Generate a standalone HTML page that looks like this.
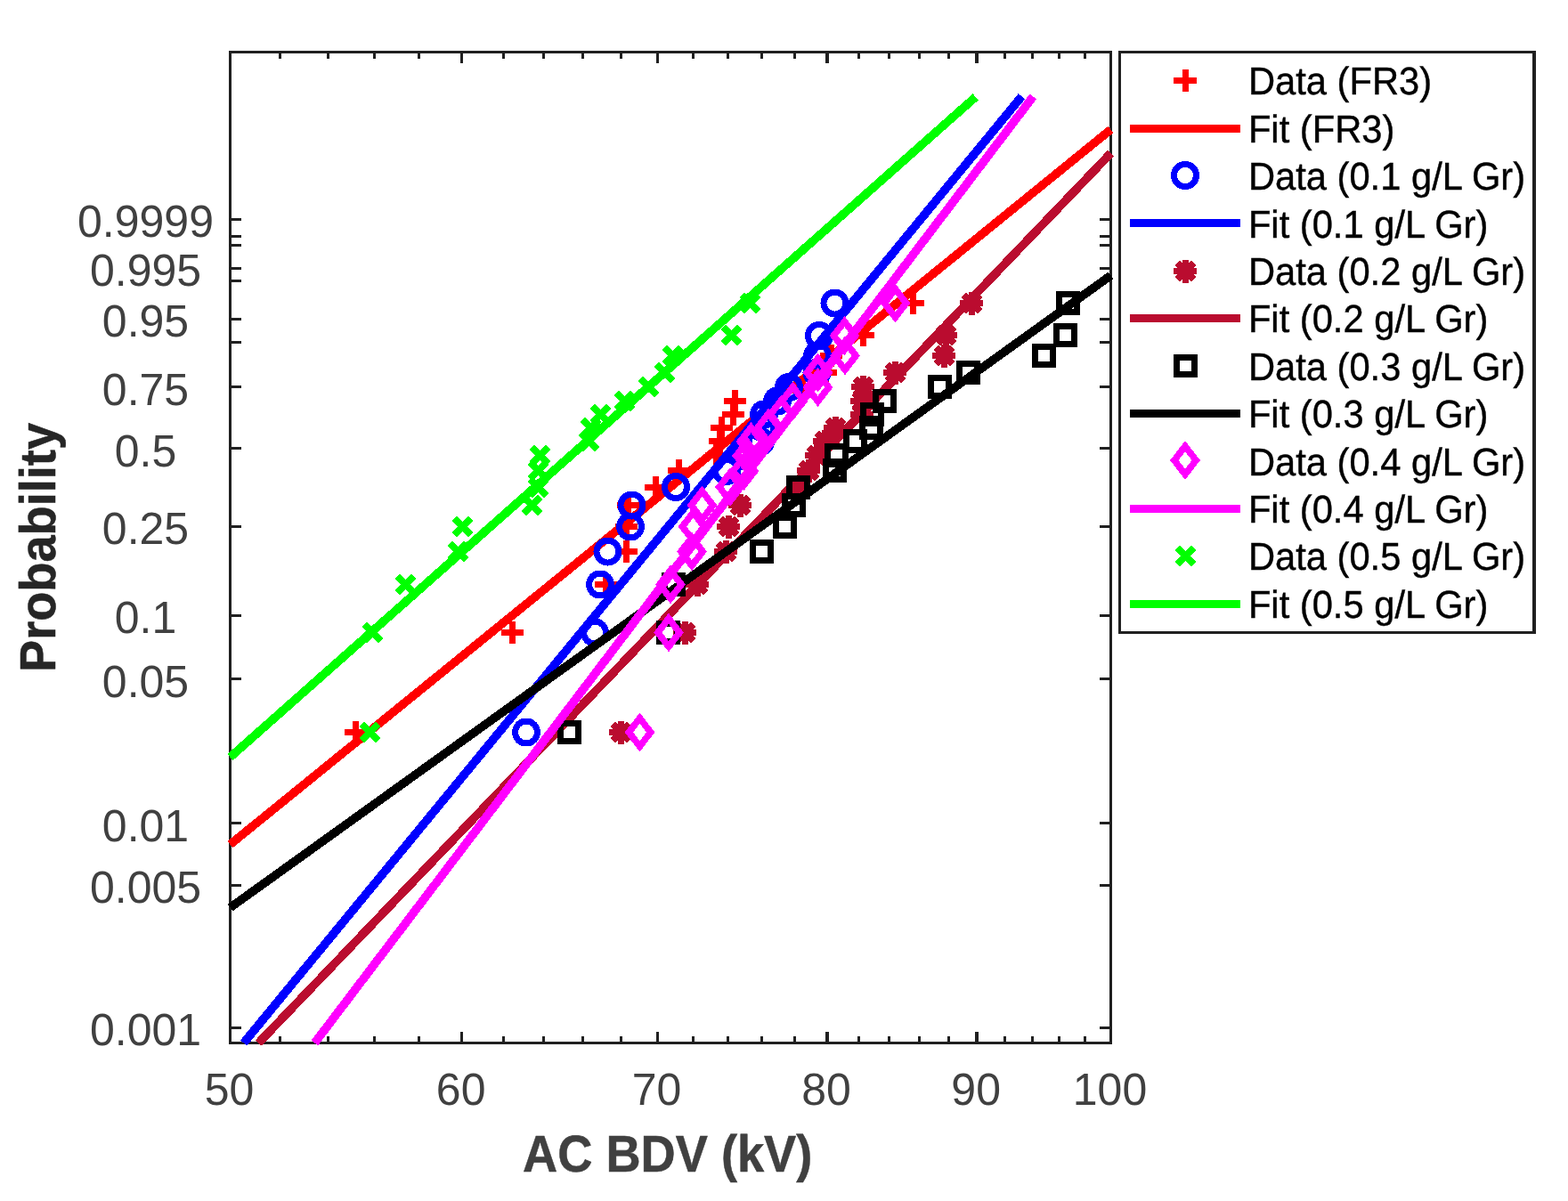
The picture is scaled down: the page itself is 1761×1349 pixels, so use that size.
<!DOCTYPE html>
<html lang="en"><head><meta charset="utf-8"><title>Weibull probability plot - AC BDV</title>
<style>html,body{margin:0;padding:0;background:#fff}body{width:1761px;height:1349px;overflow:hidden}svg{display:block}text{font-family:"Liberation Sans",Arial,Helvetica,sans-serif;text-rendering:geometricPrecision}.tk{font-size:50px;fill:#404040;text-anchor:middle}.al{font-size:54.2px;font-weight:bold;fill:#404040;text-anchor:middle;stroke:#404040;stroke-width:.5px}.lg{font-size:41.7px;fill:#000;stroke:#000;stroke-width:.4px}</style></head><body>
<svg width="1761" height="1349" viewBox="0 0 1761 1349" shape-rendering="crispEdges">
<rect width="1761" height="1349" fill="#fff"/>
<g fill="none" stroke="#202020" stroke-width="3"><rect x="258.5" y="58.5" width="989.0" height="1113.0"/><path d="M314.5 1171.5v-7.3M314.5 58.5v7.3M368.5 1171.5v-7.3M368.5 58.5v7.3M420.5 1171.5v-7.3M420.5 58.5v7.3M470.5 1171.5v-7.3M470.5 58.5v7.3M518.5 1171.5v-12.5M518.5 58.5v12.5M565.5 1171.5v-7.3M565.5 58.5v7.3M610.5 1171.5v-7.3M610.5 58.5v7.3M654.5 1171.5v-7.3M654.5 58.5v7.3M697.5 1171.5v-7.3M697.5 58.5v7.3M738.5 1171.5v-12.5M738.5 58.5v12.5M778.5 1171.5v-7.3M778.5 58.5v7.3M817.5 1171.5v-7.3M817.5 58.5v7.3M855.5 1171.5v-7.3M855.5 58.5v7.3M892.5 1171.5v-7.3M892.5 58.5v7.3M929.5 1171.5v-12.5M929.5 58.5v12.5M928.5 1171.5v-12.5M928.5 58.5v12.5M964.5 1171.5v-7.3M964.5 58.5v7.3M998.5 1171.5v-7.3M998.5 58.5v7.3M1032.5 1171.5v-7.3M1032.5 58.5v7.3M1065.5 1171.5v-7.3M1065.5 58.5v7.3M1097.5 1171.5v-12.5M1097.5 58.5v12.5M1096.5 1171.5v-12.5M1096.5 58.5v12.5M1128.5 1171.5v-7.3M1128.5 58.5v7.3M1159.5 1171.5v-7.3M1159.5 58.5v7.3M1189.5 1171.5v-7.3M1189.5 58.5v7.3M1218.5 1171.5v-7.3M1218.5 58.5v7.3M258.5 1154.5h12.5M1247.5 1154.5h-12.5M258.5 994.5h12.5M1247.5 994.5h-12.5M258.5 924.5h12.5M1247.5 924.5h-12.5M258.5 762.5h12.5M1247.5 762.5h-12.5M258.5 691.5h12.5M1247.5 691.5h-12.5M258.5 591.5h12.5M1247.5 591.5h-12.5M258.5 503.5h12.5M1247.5 503.5h-12.5M258.5 434.5h12.5M1247.5 434.5h-12.5M258.5 384.5h12.5M1247.5 384.5h-12.5M258.5 358.5h12.5M1247.5 358.5h-12.5M258.5 315.5h12.5M1247.5 315.5h-12.5M258.5 301.5h12.5M1247.5 301.5h-12.5M258.5 275.5h12.5M1247.5 275.5h-12.5M258.5 265.5h12.5M1247.5 265.5h-12.5M258.5 246.5h12.5M1247.5 246.5h-12.5"/></g>
<g class="tk" shape-rendering="auto"><text transform="translate(163.5 1173.5) scale(1 1.017)">0.001</text><text transform="translate(163.5 1013.5) scale(1 1.017)">0.005</text><text transform="translate(163.5 944.5) scale(1 1.017)">0.01</text><text transform="translate(163.5 782.5) scale(1 1.017)">0.05</text><text transform="translate(163.5 710.5) scale(1 1.017)">0.1</text><text transform="translate(163.5 610.5) scale(1 1.017)">0.25</text><text transform="translate(163.5 523.5) scale(1 1.017)">0.5</text><text transform="translate(163.5 454.5) scale(1 1.017)">0.75</text><text transform="translate(163.5 377.5) scale(1 1.017)">0.95</text><text transform="translate(163.5 320.5) scale(1 1.017)">0.995</text><text transform="translate(163.5 265.5) scale(1 1.017)">0.9999</text><text transform="translate(257.5 1240.5) scale(1 1.017)">50</text><text transform="translate(517.64 1240.5) scale(1 1.017)">60</text><text transform="translate(737.59 1240.5) scale(1 1.017)">70</text><text transform="translate(928.11 1240.5) scale(1 1.017)">80</text><text transform="translate(1096.17 1240.5) scale(1 1.017)">90</text><text transform="translate(1246.5 1240.5) scale(1 1.017)">100</text></g>
<text class="al" transform="translate(749.7 1316) scale(1 1.073)">AC BDV (kV)</text>
<text class="al" style="fill:#262626;stroke:#262626" transform="translate(62 615) rotate(-90) scale(1 1.046)">Probability</text>
<g><path fill="#ff0000" d="M386.5 819h25.5v7h-25.5zM396 810h7v25h-7z"/><path fill="#ff0000" d="M562.5 707h25.5v7h-25.5zM572 698h7v25h-7z"/><path fill="#ff0000" d="M667.5 653h25.5v7h-25.5zM677 644h7v25h-7z"/><path fill="#ff0000" d="M690.5 616h25.5v7h-25.5zM700 607h7v25h-7z"/><path fill="#ff0000" d="M690.5 588h25.5v7h-25.5zM700 579h7v25h-7z"/><path fill="#ff0000" d="M692.5 564h25.5v7h-25.5zM702 555h7v25h-7z"/><path fill="#ff0000" d="M723.5 544h25.5v7h-25.5zM733 535h7v25h-7z"/><path fill="#ff0000" d="M749.5 525h25.5v7h-25.5zM759 516h7v25h-7z"/><path fill="#ff0000" d="M791.5 508h25.5v7h-25.5zM801 499h7v25h-7z"/><path fill="#ff0000" d="M795.5 492h25.5v7h-25.5zM805 483h7v25h-7z"/><path fill="#ff0000" d="M797.5 477h25.5v7h-25.5zM807 468h7v25h-7z"/><path fill="#ff0000" d="M810.5 462h25.5v7h-25.5zM820 453h7v25h-7z"/><path fill="#ff0000" d="M812.5 447h25.5v7h-25.5zM822 438h7v25h-7z"/><path fill="#ff0000" d="M888.5 431h25.5v7h-25.5zM898 422h7v25h-7z"/><path fill="#ff0000" d="M914.5 415h25.5v7h-25.5zM924 406h7v25h-7z"/><path fill="#ff0000" d="M920.5 396h25.5v7h-25.5zM930 387h7v25h-7z"/><path fill="#ff0000" d="M956.5 373h25.5v7h-25.5zM966 364h7v25h-7z"/><path fill="#ff0000" d="M1012.5 337h25.5v7h-25.5zM1022 328h7v25h-7z"/><path fill="none" stroke="#ff0000" stroke-width="9.6" d="M258.5 948.5L1247.5 145.5"/></g>
<g><circle cx="591" cy="822.5" r="12.5" fill="none" stroke="#0000ff" stroke-width="7"/><circle cx="668" cy="710.5" r="12.5" fill="none" stroke="#0000ff" stroke-width="7"/><circle cx="674" cy="656.5" r="12.5" fill="none" stroke="#0000ff" stroke-width="7"/><circle cx="682.5" cy="619.5" r="12.5" fill="none" stroke="#0000ff" stroke-width="7"/><circle cx="708" cy="591.5" r="12.5" fill="none" stroke="#0000ff" stroke-width="7"/><circle cx="709.5" cy="567.5" r="12.5" fill="none" stroke="#0000ff" stroke-width="7"/><circle cx="759" cy="547" r="12.5" fill="none" stroke="#0000ff" stroke-width="7"/><circle cx="816" cy="529" r="12.5" fill="none" stroke="#0000ff" stroke-width="7"/><circle cx="835" cy="512" r="12.5" fill="none" stroke="#0000ff" stroke-width="7"/><circle cx="854" cy="496" r="12.5" fill="none" stroke="#0000ff" stroke-width="7"/><circle cx="856.5" cy="480.5" r="12.5" fill="none" stroke="#0000ff" stroke-width="7"/><circle cx="858" cy="465.5" r="12.5" fill="none" stroke="#0000ff" stroke-width="7"/><circle cx="873" cy="450.5" r="12.5" fill="none" stroke="#0000ff" stroke-width="7"/><circle cx="886" cy="435" r="12.5" fill="none" stroke="#0000ff" stroke-width="7"/><circle cx="917.5" cy="418.5" r="12.5" fill="none" stroke="#0000ff" stroke-width="7"/><circle cx="918" cy="399.5" r="12.5" fill="none" stroke="#0000ff" stroke-width="7"/><circle cx="920" cy="377" r="12.5" fill="none" stroke="#0000ff" stroke-width="7"/><circle cx="937.5" cy="340.5" r="12.5" fill="none" stroke="#0000ff" stroke-width="7"/><path fill="none" stroke="#0000ff" stroke-width="9.6" d="M273.7 1171.5L1147.5 108.2"/></g>
<g><path fill="#ba0c2f" d="M684 819h26v7h-26zM694 809.5h7v26h-7z"/><path fill="none" stroke="#ba0c2f" stroke-width="7.3" d="M688.4 813.4L706.6 831.6M688.4 831.6L706.6 813.4"/><path fill="#ba0c2f" d="M756 707h26v7h-26zM766 697.5h7v26h-7z"/><path fill="none" stroke="#ba0c2f" stroke-width="7.3" d="M760.4 701.4L778.6 719.6M760.4 719.6L778.6 701.4"/><path fill="#ba0c2f" d="M770 653h26v7h-26zM780 643.5h7v26h-7z"/><path fill="none" stroke="#ba0c2f" stroke-width="7.3" d="M774.4 647.4L792.6 665.6M774.4 665.6L792.6 647.4"/><path fill="#ba0c2f" d="M802 616h26v7h-26zM812 606.5h7v26h-7z"/><path fill="none" stroke="#ba0c2f" stroke-width="7.3" d="M806.4 610.4L824.6 628.6M806.4 628.6L824.6 610.4"/><path fill="#ba0c2f" d="M805 588h26v7h-26zM815 578.5h7v26h-7z"/><path fill="none" stroke="#ba0c2f" stroke-width="7.3" d="M809.4 582.4L827.6 600.6M809.4 600.6L827.6 582.4"/><path fill="#ba0c2f" d="M818 564h26v7h-26zM828 554.5h7v26h-7z"/><path fill="none" stroke="#ba0c2f" stroke-width="7.3" d="M822.4 558.4L840.6 576.6M822.4 576.6L840.6 558.4"/><path fill="#ba0c2f" d="M884 544h26v7h-26zM894 534.5h7v26h-7z"/><path fill="none" stroke="#ba0c2f" stroke-width="7.3" d="M888.4 538.4L906.6 556.6M888.4 556.6L906.6 538.4"/><path fill="#ba0c2f" d="M895 525h26v7h-26zM905 515.5h7v26h-7z"/><path fill="none" stroke="#ba0c2f" stroke-width="7.3" d="M899.4 519.4L917.6 537.6M899.4 537.6L917.6 519.4"/><path fill="#ba0c2f" d="M904 508h26v7h-26zM914 498.5h7v26h-7z"/><path fill="none" stroke="#ba0c2f" stroke-width="7.3" d="M908.4 502.4L926.6 520.6M908.4 520.6L926.6 502.4"/><path fill="#ba0c2f" d="M913 492h26v7h-26zM923 482.5h7v26h-7z"/><path fill="none" stroke="#ba0c2f" stroke-width="7.3" d="M917.4 486.4L935.6 504.6M917.4 504.6L935.6 486.4"/><path fill="#ba0c2f" d="M925 477h26v7h-26zM935 467.5h7v26h-7z"/><path fill="none" stroke="#ba0c2f" stroke-width="7.3" d="M929.4 471.4L947.6 489.6M929.4 489.6L947.6 471.4"/><path fill="#ba0c2f" d="M955 462h26v7h-26zM965 452.5h7v26h-7z"/><path fill="none" stroke="#ba0c2f" stroke-width="7.3" d="M959.4 456.4L977.6 474.6M959.4 474.6L977.6 456.4"/><path fill="#ba0c2f" d="M955 447h26v7h-26zM965 437.5h7v26h-7z"/><path fill="none" stroke="#ba0c2f" stroke-width="7.3" d="M959.4 441.4L977.6 459.6M959.4 459.6L977.6 441.4"/><path fill="#ba0c2f" d="M956 431h26v7h-26zM966 421.5h7v26h-7z"/><path fill="none" stroke="#ba0c2f" stroke-width="7.3" d="M960.4 425.4L978.6 443.6M960.4 443.6L978.6 425.4"/><path fill="#ba0c2f" d="M992 415h26v7h-26zM1002 405.5h7v26h-7z"/><path fill="none" stroke="#ba0c2f" stroke-width="7.3" d="M996.4 409.4L1014.6 427.6M996.4 427.6L1014.6 409.4"/><path fill="#ba0c2f" d="M1047 396h26v7h-26zM1057 386.5h7v26h-7z"/><path fill="none" stroke="#ba0c2f" stroke-width="7.3" d="M1051.4 390.4L1069.6 408.6M1051.4 408.6L1069.6 390.4"/><path fill="#ba0c2f" d="M1049 373h26v7h-26zM1059 363.5h7v26h-7z"/><path fill="none" stroke="#ba0c2f" stroke-width="7.3" d="M1053.4 367.4L1071.6 385.6M1053.4 385.6L1071.6 367.4"/><path fill="#ba0c2f" d="M1078 337h26v7h-26zM1088 327.5h7v26h-7z"/><path fill="none" stroke="#ba0c2f" stroke-width="7.3" d="M1082.4 331.4L1100.6 349.6M1082.4 349.6L1100.6 331.4"/><path fill="none" stroke="#ba0c2f" stroke-width="9.6" d="M290.4 1171.5L1247.5 172.1"/></g>
<g><rect x="629.5" y="812.5" width="20" height="20" fill="none" stroke="#000000" stroke-width="7"/><rect x="740.5" y="700.5" width="20" height="20" fill="none" stroke="#000000" stroke-width="7"/><rect x="746.5" y="646.5" width="20" height="20" fill="none" stroke="#000000" stroke-width="7"/><rect x="845.5" y="609.5" width="20" height="20" fill="none" stroke="#000000" stroke-width="7"/><rect x="871.5" y="581.5" width="20" height="20" fill="none" stroke="#000000" stroke-width="7"/><rect x="881.5" y="557.5" width="20" height="20" fill="none" stroke="#000000" stroke-width="7"/><rect x="886.5" y="537.5" width="20" height="20" fill="none" stroke="#000000" stroke-width="7"/><rect x="927.5" y="518.5" width="20" height="20" fill="none" stroke="#000000" stroke-width="7"/><rect x="929.5" y="501.5" width="20" height="20" fill="none" stroke="#000000" stroke-width="7"/><rect x="950.5" y="485.5" width="20" height="20" fill="none" stroke="#000000" stroke-width="7"/><rect x="968.5" y="470.5" width="20" height="20" fill="none" stroke="#000000" stroke-width="7"/><rect x="969.5" y="455.5" width="20" height="20" fill="none" stroke="#000000" stroke-width="7"/><rect x="983.5" y="440.5" width="20" height="20" fill="none" stroke="#000000" stroke-width="7"/><rect x="1045.5" y="424.5" width="20" height="20" fill="none" stroke="#000000" stroke-width="7"/><rect x="1077.5" y="408.5" width="20" height="20" fill="none" stroke="#000000" stroke-width="7"/><rect x="1162.5" y="389.5" width="20" height="20" fill="none" stroke="#000000" stroke-width="7"/><rect x="1186.5" y="366.5" width="20" height="20" fill="none" stroke="#000000" stroke-width="7"/><rect x="1189.5" y="330.5" width="20" height="20" fill="none" stroke="#000000" stroke-width="7"/><path fill="none" stroke="#000000" stroke-width="9.6" d="M258.5 1019.5L1247.5 309.4"/></g>
<g><path fill="none" stroke="#ff00ff" stroke-width="7.5" stroke-miterlimit="10" d="M718.5 806.7L730.7 822.5L718.5 838.3L706.3 822.5Z"/><path fill="none" stroke="#ff00ff" stroke-width="7.5" stroke-miterlimit="10" d="M751 694.7L763.2 710.5L751 726.3L738.8 710.5Z"/><path fill="none" stroke="#ff00ff" stroke-width="7.5" stroke-miterlimit="10" d="M753 640.7L765.2 656.5L753 672.3L740.8 656.5Z"/><path fill="none" stroke="#ff00ff" stroke-width="7.5" stroke-miterlimit="10" d="M777 603.7L789.2 619.5L777 635.3L764.8 619.5Z"/><path fill="none" stroke="#ff00ff" stroke-width="7.5" stroke-miterlimit="10" d="M778.5 575.7L790.7 591.5L778.5 607.3L766.3 591.5Z"/><path fill="none" stroke="#ff00ff" stroke-width="7.5" stroke-miterlimit="10" d="M788.5 551.7L800.7 567.5L788.5 583.3L776.3 567.5Z"/><path fill="none" stroke="#ff00ff" stroke-width="7.5" stroke-miterlimit="10" d="M820 531.2L832.2 547L820 562.8L807.8 547Z"/><path fill="none" stroke="#ff00ff" stroke-width="7.5" stroke-miterlimit="10" d="M835.5 513.2L847.7 529L835.5 544.8L823.3 529Z"/><path fill="none" stroke="#ff00ff" stroke-width="7.5" stroke-miterlimit="10" d="M839 496.2L851.2 512L839 527.8L826.8 512Z"/><path fill="none" stroke="#ff00ff" stroke-width="7.5" stroke-miterlimit="10" d="M843.5 480.2L855.7 496L843.5 511.8L831.3 496Z"/><path fill="none" stroke="#ff00ff" stroke-width="7.5" stroke-miterlimit="10" d="M863 464.7L875.2 480.5L863 496.3L850.8 480.5Z"/><path fill="none" stroke="#ff00ff" stroke-width="7.5" stroke-miterlimit="10" d="M877.5 449.7L889.7 465.5L877.5 481.3L865.3 465.5Z"/><path fill="none" stroke="#ff00ff" stroke-width="7.5" stroke-miterlimit="10" d="M890.5 434.7L902.7 450.5L890.5 466.3L878.3 450.5Z"/><path fill="none" stroke="#ff00ff" stroke-width="7.5" stroke-miterlimit="10" d="M918.5 419.2L930.7 435L918.5 450.8L906.3 435Z"/><path fill="none" stroke="#ff00ff" stroke-width="7.5" stroke-miterlimit="10" d="M918.5 402.7L930.7 418.5L918.5 434.3L906.3 418.5Z"/><path fill="none" stroke="#ff00ff" stroke-width="7.5" stroke-miterlimit="10" d="M949 383.7L961.2 399.5L949 415.3L936.8 399.5Z"/><path fill="none" stroke="#ff00ff" stroke-width="7.5" stroke-miterlimit="10" d="M948.5 361.2L960.7 377L948.5 392.8L936.3 377Z"/><path fill="none" stroke="#ff00ff" stroke-width="7.5" stroke-miterlimit="10" d="M1005.5 324.7L1017.7 340.5L1005.5 356.3L993.3 340.5Z"/><path fill="none" stroke="#ff00ff" stroke-width="9.6" d="M353.4 1171.5L1160.3 108.4"/></g>
<g><path fill="none" stroke="#00ff00" stroke-width="7.3" d="M406.4 813.4L424.6 831.6M406.4 831.6L424.6 813.4"/><path fill="none" stroke="#00ff00" stroke-width="7.3" d="M409.4 701.4L427.6 719.6M409.4 719.6L427.6 701.4"/><path fill="none" stroke="#00ff00" stroke-width="7.3" d="M446.4 647.4L464.6 665.6M446.4 665.6L464.6 647.4"/><path fill="none" stroke="#00ff00" stroke-width="7.3" d="M505.4 610.4L523.6 628.6M505.4 628.6L523.6 610.4"/><path fill="none" stroke="#00ff00" stroke-width="7.3" d="M510.4 582.4L528.6 600.6M510.4 600.6L528.6 582.4"/><path fill="none" stroke="#00ff00" stroke-width="7.3" d="M588.4 558.4L606.6 576.6M588.4 576.6L606.6 558.4"/><path fill="none" stroke="#00ff00" stroke-width="7.3" d="M595.4 538.4L613.6 556.6M595.4 556.6L613.6 538.4"/><path fill="none" stroke="#00ff00" stroke-width="7.3" d="M595.4 519.4L613.6 537.6M595.4 537.6L613.6 519.4"/><path fill="none" stroke="#00ff00" stroke-width="7.3" d="M597.4 502.4L615.6 520.6M597.4 520.6L615.6 502.4"/><path fill="none" stroke="#00ff00" stroke-width="7.3" d="M652.4 486.4L670.6 504.6M652.4 504.6L670.6 486.4"/><path fill="none" stroke="#00ff00" stroke-width="7.3" d="M654.4 471.4L672.6 489.6M654.4 489.6L672.6 471.4"/><path fill="none" stroke="#00ff00" stroke-width="7.3" d="M665.4 456.4L683.6 474.6M665.4 474.6L683.6 456.4"/><path fill="none" stroke="#00ff00" stroke-width="7.3" d="M692.4 441.4L710.6 459.6M692.4 459.6L710.6 441.4"/><path fill="none" stroke="#00ff00" stroke-width="7.3" d="M719.4 425.4L737.6 443.6M719.4 443.6L737.6 425.4"/><path fill="none" stroke="#00ff00" stroke-width="7.3" d="M737.4 409.4L755.6 427.6M737.4 427.6L755.6 409.4"/><path fill="none" stroke="#00ff00" stroke-width="7.3" d="M746.4 390.4L764.6 408.6M746.4 408.6L764.6 390.4"/><path fill="none" stroke="#00ff00" stroke-width="7.3" d="M812.4 367.4L830.6 385.6M812.4 385.6L830.6 367.4"/><path fill="none" stroke="#00ff00" stroke-width="7.3" d="M833.4 331.4L851.6 349.6M833.4 349.6L851.6 331.4"/><path fill="none" stroke="#00ff00" stroke-width="9.6" d="M258.5 850.5L1095.7 108.9"/></g>
<rect x="1257.5" y="58.5" width="465.5" height="652" fill="#fff" stroke="#202020" stroke-width="3"/>
<rect x="1721" y="57" width="4" height="655" fill="#202020"/>
<path fill="#ff0000" d="M1318 87h26v7h-26zM1328 78h7v25h-7z"/>
<text class="lg" transform="translate(1401.9 106) scale(1 1.045)">Data (FR3)</text>
<rect x="1269" y="140" width="124" height="9" fill="#ff0000"/>
<text class="lg" transform="translate(1401.9 160) scale(1 1.045)">Fit (FR3)</text>
<circle cx="1331" cy="197" r="12.5" fill="none" stroke="#0000ff" stroke-width="7"/>
<text class="lg" transform="translate(1401.9 213) scale(1 1.045)">Data (0.1 g/L Gr)</text>
<rect x="1269" y="246" width="124" height="9" fill="#0000ff"/>
<text class="lg" transform="translate(1401.9 267) scale(1 1.045)">Fit (0.1 g/L Gr)</text>
<path fill="#ba0c2f" d="M1318 301h26v7h-26zM1328 291.5h7v26h-7z"/><path fill="none" stroke="#ba0c2f" stroke-width="7.3" d="M1322.4 295.4L1340.6 313.6M1322.4 313.6L1340.6 295.4"/>
<text class="lg" transform="translate(1401.9 320) scale(1 1.045)">Data (0.2 g/L Gr)</text>
<rect x="1269" y="353" width="124" height="9" fill="#ba0c2f"/>
<text class="lg" transform="translate(1401.9 373) scale(1 1.045)">Fit (0.2 g/L Gr)</text>
<rect x="1321.5" y="401.5" width="20" height="19" fill="none" stroke="#000000" stroke-width="7"/>
<text class="lg" transform="translate(1401.9 427) scale(1 1.045)">Data (0.3 g/L Gr)</text>
<rect x="1269" y="460" width="124" height="9" fill="#000000"/>
<text class="lg" transform="translate(1401.9 480) scale(1 1.045)">Fit (0.3 g/L Gr)</text>
<path fill="none" stroke="#ff00ff" stroke-width="7.5" stroke-miterlimit="10" d="M1331 501.2L1343.2 517L1331 532.8L1318.8 517Z"/>
<text class="lg" transform="translate(1401.9 534) scale(1 1.045)">Data (0.4 g/L Gr)</text>
<rect x="1269" y="567" width="124" height="9" fill="#ff00ff"/>
<text class="lg" transform="translate(1401.9 587) scale(1 1.045)">Fit (0.4 g/L Gr)</text>
<path fill="none" stroke="#00ff00" stroke-width="7.3" d="M1322.4 615.4L1340.6 633.6M1322.4 633.6L1340.6 615.4"/>
<text class="lg" transform="translate(1401.9 640) scale(1 1.045)">Data (0.5 g/L Gr)</text>
<rect x="1269" y="674" width="124" height="9" fill="#00ff00"/>
<text class="lg" transform="translate(1401.9 694) scale(1 1.045)">Fit (0.5 g/L Gr)</text>
</svg></body></html>
